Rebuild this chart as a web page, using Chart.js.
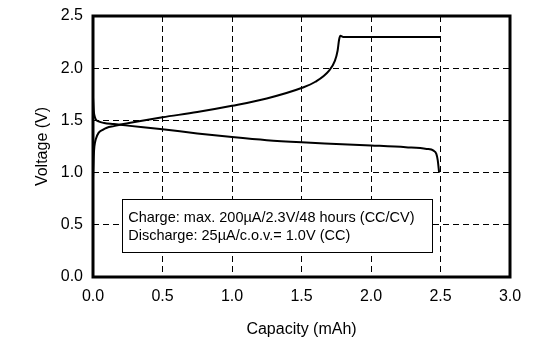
<!DOCTYPE html>
<html>
<head>
<meta charset="utf-8">
<script src="https://cdn.jsdelivr.net/npm/chart.js@4"></script>
<style>
  html, body { margin: 0; padding: 0; background: #fff; }
  #wrap { width: 547px; height: 346px; }
</style>
</head>
<body>
<div id="wrap"><canvas id="c" width="547" height="346"></canvas></div>
<script>
// ---- data ----
const chargeCap = [0, 0.005, 0.01, 0.02, 0.04, 0.07, 0.1, 0.15, 0.2, 0.3, 0.5, 0.75, 1.0, 1.25, 1.5, 1.6, 1.7, 1.74, 1.76, 1.77, 1.78, 1.8, 2.0, 2.5];
const chargeV   = [0.95, 1.15, 1.25, 1.32, 1.38, 1.41, 1.43, 1.445, 1.46, 1.485, 1.53, 1.58, 1.64, 1.71, 1.81, 1.87, 1.98, 2.07, 2.17, 2.27, 2.31, 2.30, 2.30, 2.30];

const dischargeCap = [0, 0.005, 0.01, 0.02, 0.04, 0.08, 0.15, 0.25, 0.5, 0.75, 1.0, 1.25, 1.5, 1.75, 2.0, 2.25, 2.4, 2.45, 2.47, 2.48, 2.49];
const dischargeV   = [1.72, 1.6, 1.55, 1.51, 1.49, 1.475, 1.465, 1.45, 1.415, 1.375, 1.34, 1.31, 1.29, 1.275, 1.26, 1.243, 1.227, 1.21, 1.18, 1.12, 1.0];

const noteLines = [
  "Charge: max. 200\u00B5A/2.3V/48 hours (CC/CV)",
  "Discharge: 25\u00B5A/c.o.v.= 1.0V (CC)"
];

const FONT = "'Liberation Sans', Arial, sans-serif";
const toXY = (xs, ys) => xs.map((x, i) => ({ x, y: ys[i] }));

// frame + note box
const framePlugin = {
  id: "frame",
  afterDatasetsDraw(chart) {
    const { ctx, chartArea: a, scales } = chart;
    ctx.save();
    // note box
    const x0 = scales.x.getPixelForValue(0.21), x1 = scales.x.getPixelForValue(2.44);
    const y0 = scales.y.getPixelForValue(0.745), y1 = scales.y.getPixelForValue(0.24);
    ctx.fillStyle = "#fff";
    ctx.fillRect(x0, y0, x1 - x0, y1 - y0);
    ctx.strokeStyle = "#000";
    ctx.lineWidth = 1;
    ctx.strokeRect(Math.round(x0) + 0.5, Math.round(y0) + 0.5, Math.round(x1 - x0), Math.round(y1 - y0));
    ctx.fillStyle = "#000";
    ctx.font = "14.5px " + FONT;
    ctx.textBaseline = "alphabetic";
    ctx.fillText(noteLines[0], x0 + 6, y0 + 23);
    ctx.fillText(noteLines[1], x0 + 6, y0 + 41);
    // thick frame
    ctx.lineWidth = 3;
    ctx.strokeRect(a.left, a.top, a.right - a.left, a.bottom - a.top);
    ctx.restore();
  }
};

new Chart(document.getElementById("c"), {
  type: "scatter",
  data: {
    datasets: [
      { label: "Charge", data: toXY(chargeCap, chargeV), showLine: true, borderColor: "#000", borderWidth: 2, pointRadius: 0, cubicInterpolationMode: "monotone" },
      { label: "Discharge", data: toXY(dischargeCap, dischargeV), showLine: true, borderColor: "#000", borderWidth: 2, pointRadius: 0, cubicInterpolationMode: "monotone" }
    ]
  },
  options: {
    responsive: false,
    animation: false,
    layout: { padding: { left: 0, right: 37, top: 16, bottom: 0 } },
    plugins: { legend: { display: false }, tooltip: { enabled: false } },
    scales: {
      x: {
        type: "linear", min: 0, max: 3,
        ticks: { stepSize: 0.5, color: "#000", font: { family: FONT, size: 16 }, padding: 10, callback: v => v.toFixed(1) },
        grid: { color: "#000", lineWidth: 1, drawTicks: false },
        border: { display: false, dash: [6, 4] },
        title: { display: true, text: "Capacity (mAh)", color: "#000", font: { family: FONT, size: 16 }, padding: { top: 5, bottom: 7 } },
        afterFit: s => { s.height = 69; s.paddingLeft = 0; s.paddingRight = 0; }
      },
      y: {
        type: "linear", min: 0, max: 2.5,
        ticks: { stepSize: 0.5, color: "#000", font: { family: FONT, size: 16 }, padding: 10, callback: v => v.toFixed(1) },
        grid: { color: "#000", lineWidth: 1, drawTicks: false },
        border: { display: false, dash: [6, 4] },
        title: { display: true, text: "Voltage (V)", color: "#000", font: { family: FONT, size: 16 }, padding: { top: 33, bottom: 0 } },
        afterFit: s => { s.width = 93; s.paddingTop = 0; s.paddingBottom = 0; }
      }
    }
  },
  plugins: [framePlugin]
});
</script>
</body>
</html>
